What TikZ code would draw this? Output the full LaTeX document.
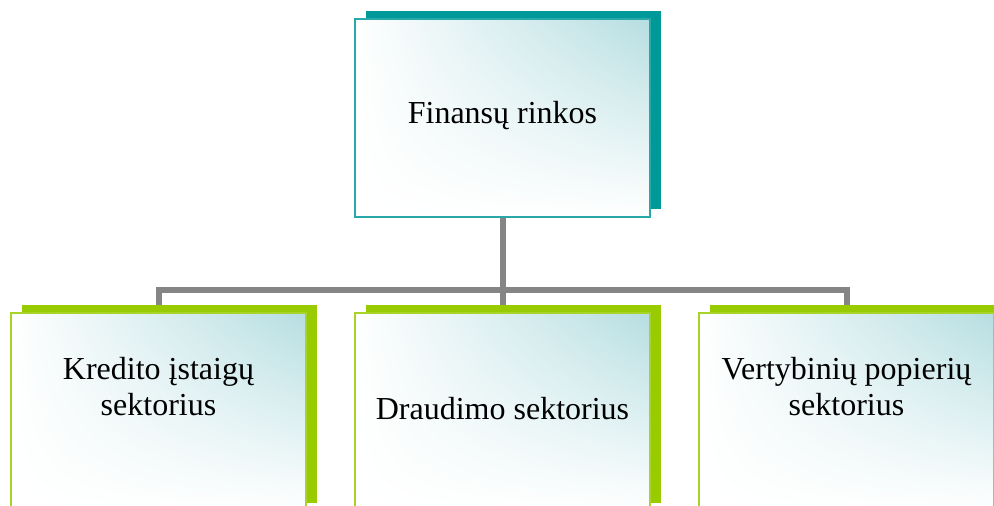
\documentclass[tikz,border=0pt]{standalone}
\usepackage{fontspec}
\setmainfont{Liberation Serif}
\usetikzlibrary{shadows,shadings}

\definecolor{tealshadow}{HTML}{009999}
\definecolor{tealline}{HTML}{28A8A8}
\definecolor{limeshadow}{HTML}{99CC00}
\definecolor{limeline}{HTML}{A8D42A}
\definecolor{paletint}{HTML}{B6DEE1}
\definecolor{linkgray}{HTML}{858585}

\tikzset{
  card/.style={rectangle, minimum width=295pt, minimum height=198pt,
    inner sep=0pt, line width=1.6pt, shade,
    upper right=paletint, upper left=white, lower left=white, lower right=white},
  headcard/.style={card, draw=tealline,
    general shadow={fill=tealshadow, shadow xshift=11pt, shadow yshift=8pt}},
  subcard/.style={card, draw=limeline,
    general shadow={fill=limeshadow, shadow xshift=11pt, shadow yshift=8pt}},
  caption/.style={font=\fontsize{32}{36}\selectfont, align=center, inner sep=0pt},
  link/.style={draw=linkgray, line width=6pt, line join=miter}
}

\begin{document}
\begin{tikzpicture}[x=1pt, y=1pt]
\useasboundingbox (0,0) rectangle (994,506);

% branch lines sit underneath the cards
\coordinate (bus) at (0,215.5);
\node[minimum width=295pt, minimum height=198pt] (ghost1) at (158.5,94) {};
\node[minimum width=295pt, minimum height=198pt] (ghost2) at (502.5,94) {};
\node[minimum width=295pt, minimum height=198pt] (ghost3) at (846.5,94) {};
\coordinate (stem) at (502.5,289);
\draw[link] (stem) -- (stem |- bus);
\draw[link] (ghost1.north) -- (ghost1.north |- bus) -- (ghost3.north |- bus) -- (ghost3.north);
\draw[link] (ghost2.north) -- (ghost2.north |- bus);

% cards
\node[headcard] (top) at (502.5,388) {};
\node[subcard] (b1) at (158.5,94) {};
\node[subcard] (b2) at (502.5,94) {};
\node[subcard] (b3) at (846.5,94) {};

% texts
\node[caption, anchor=base] (t0) at (502.5,382) {Finansų rinkos};
\node[caption, anchor=north] (t1) at (158.5,148.5) {Kredito įstaigų\\sektorius};
\node[caption, anchor=base] (t2) at (502.5,86) {Draudimo sektorius};
\node[caption, anchor=north] (t3) at (846.5,148.5) {Vertybinių popierių\\sektorius};
\end{tikzpicture}
\end{document}
